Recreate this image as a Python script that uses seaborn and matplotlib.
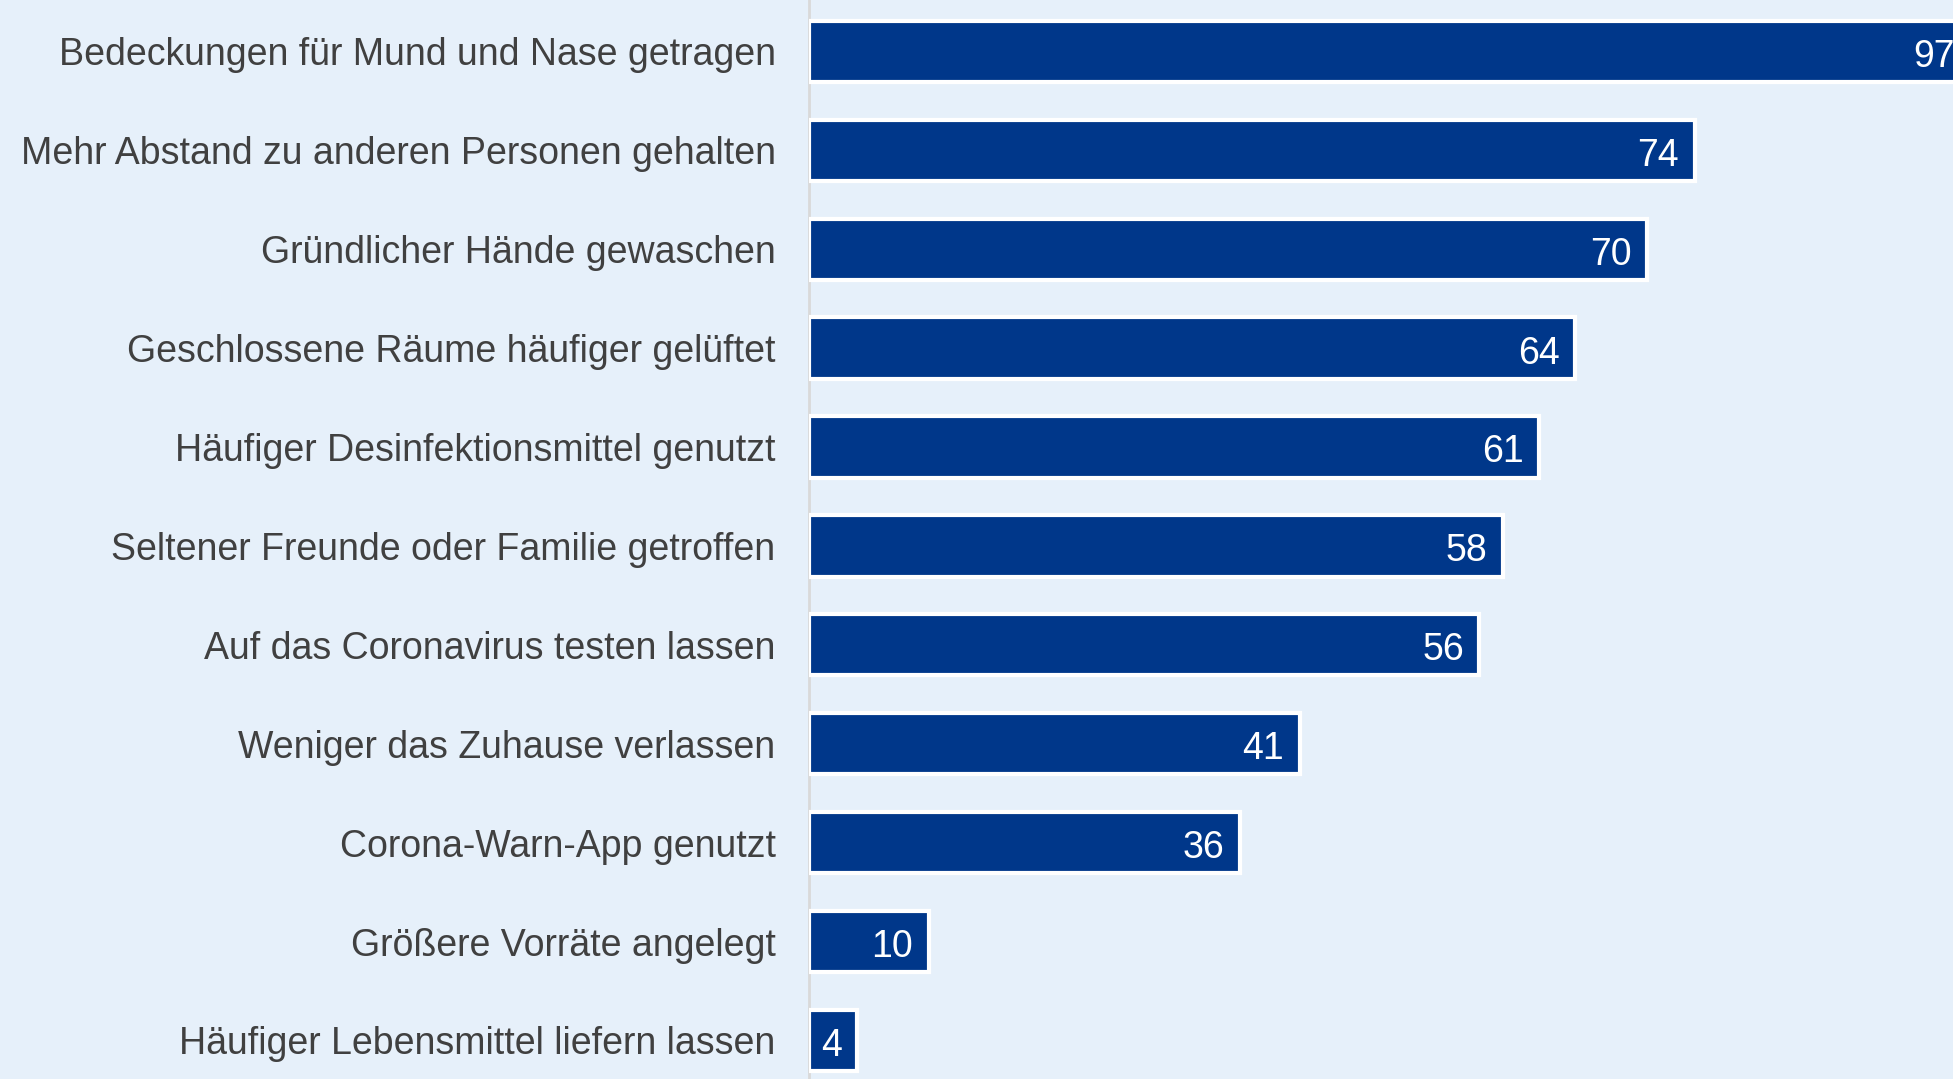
import matplotlib
matplotlib.use("Agg")
import matplotlib.pyplot as plt
import pandas as pd
import seaborn as sns

categories = [
    "Bedeckungen für Mund und Nase getragen",
    "Mehr Abstand zu anderen Personen gehalten",
    "Gründlicher Hände gewaschen",
    "Geschlossene Räume häufiger gelüftet",
    "Häufiger Desinfektionsmittel genutzt",
    "Seltener Freunde oder Familie getroffen",
    "Auf das Coronavirus testen lassen",
    "Weniger das Zuhause verlassen",
    "Corona-Warn-App genutzt",
    "Größere Vorräte angelegt",
    "Häufiger Lebensmittel liefern lassen",
]
values = [97, 74, 70, 64, 61, 58, 56, 41, 36, 10, 4]

bg = "#E6F0FA"
bar_color = "#00378A"
text_color = "#404040"

sns.set_theme(style="white")
plt.rcParams["font.family"] = ["Liberation Sans", "DejaVu Sans"]

df = pd.DataFrame({"label": categories, "value": values})

fig = plt.figure(figsize=(19.53, 10.79), dpi=100, facecolor=bg)
ax = fig.add_axes([0.4142, 0.0, 0.5858, 1.0])
ax.set_facecolor(bg)

sns.barplot(data=df, x="value", y="label", orient="h", color=bar_color,
            saturation=1, width=0.62, edgecolor="white", linewidth=3, ax=ax)

ax.set_xlim(0, 95.6)
ax.set_ylim(10.39, -0.52)

for i, v in enumerate(values):
    ax.annotate(str(v), xy=(v, i), xytext=(-11, -1), textcoords="offset points",
                ha="right", va="center_baseline", color="white", fontsize=27,
                annotation_clip=False)

ax.set_xlabel("")
ax.set_ylabel("")
ax.set_xticks([])
ax.tick_params(axis="y", length=0, pad=24, labelsize=27, labelcolor=text_color)
for side in ["top", "right", "bottom"]:
    ax.spines[side].set_visible(False)
ax.spines["left"].set_color("#D9D9D9")
ax.spines["left"].set_linewidth(2)
ax.spines["left"].set_zorder(0)

fig.savefig("out.png", dpi=100, facecolor=bg)
